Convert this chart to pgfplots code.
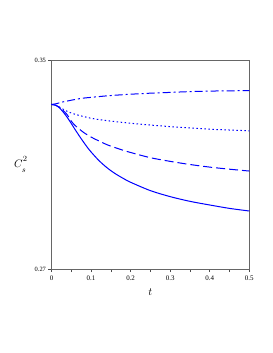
\documentclass[border=0pt]{standalone}
\usepackage{pgfplots}
\pgfplotsset{compat=1.18}
\usepackage{fontspec}
\setmainfont{Liberation Serif}
\begin{document}
\begin{tikzpicture}[x=1bp,y=1bp]
\path (0,0) rectangle (273,353);
\begin{axis}[
  at={(51.5bp,84bp)}, anchor=south west,
  width=197.8bp, height=209bp, scale only axis,
  xmin=0, xmax=0.5, ymin=0.27, ymax=0.35,
  axis line style={draw=black!60, line width=0.8bp},
  xtick={0,0.1,0.2,0.3,0.4,0.5},
  xticklabels={0,0.1,0.2,0.3,0.4,0.5},
  minor xtick={0.05,0.15,0.25,0.35,0.45},
  ytick={0.27,0.35},
  yticklabels={0.27,0.35},
  tick align=outside,
  xtick pos=bottom, ytick pos=left,
  major tick length=3bp, minor tick length=3bp,
  every tick/.style={black!70, line width=0.6bp},
  xticklabel style={font=\fontsize{7}{8}\selectfont},
  yticklabel style={font=\fontsize{6.5}{7}\selectfont, xshift=1bp},
  xlabel={$t$},
  xlabel style={font=\fontsize{11}{12}\selectfont, at={(axis description cs:0.5,0)}, anchor=north, yshift=-16bp},
  ylabel={$C^{\raisebox{2bp}{$\scriptstyle 2$}}_{\raisebox{-3bp}{$\scriptstyle s$}}$},
  ylabel style={rotate=-90, font=\fontsize{11}{12}\selectfont, at={(axis description cs:-0.155,0.5)}, anchor=center},
  clip=false,
]
\addplot[blue, line width=1bp, smooth] coordinates {
(0,0.333) (0.01,0.3327) (0.02,0.3317) (0.03,0.3300) (0.04,0.3280) (0.05,0.3257) (0.06,0.3233) (0.07,0.3210) (0.08,0.3188) (0.09,0.3167) (0.1,0.3148) (0.12,0.3115) (0.14,0.3088) (0.16,0.3066) (0.18,0.3048) (0.2,0.3032) (0.25,0.3000) (0.3,0.2977) (0.35,0.2959) (0.4,0.2945) (0.45,0.2932) (0.5,0.2922)};
\addplot[blue, line width=1bp, smooth, dash pattern=on 9bp off 4bp] coordinates {
(0,0.333) (0.01,0.3327) (0.02,0.3319) (0.03,0.3306) (0.04,0.3290) (0.05,0.3266) (0.06,0.3249) (0.08,0.3224) (0.1,0.3205) (0.12,0.3190) (0.14,0.3176) (0.16,0.3165) (0.18,0.3155) (0.2,0.3146) (0.25,0.3126) (0.3,0.3112) (0.35,0.3100) (0.4,0.3090) (0.45,0.3082) (0.5,0.3075)};
\addplot[blue, line width=1bp, smooth, dash pattern=on 1.5bp off 2.5bp] coordinates {
(0,0.333) (0.01,0.3327) (0.02,0.3320) (0.03,0.3311) (0.04,0.3303) (0.06,0.3292) (0.08,0.3284) (0.1,0.3277) (0.12,0.3272) (0.15,0.3266) (0.2,0.3258) (0.25,0.3251) (0.3,0.3245) (0.35,0.3240) (0.4,0.3235) (0.45,0.3232) (0.5,0.3229)};
\addplot[blue, line width=1bp, smooth, dash pattern=on 8bp off 3bp on 2bp off 3bp] coordinates {
(0,0.333) (0.01,0.3332) (0.02,0.3336) (0.03,0.3340) (0.04,0.3343) (0.06,0.3349) (0.08,0.3354) (0.1,0.3357) (0.12,0.3360) (0.15,0.3364) (0.2,0.3369) (0.25,0.3373) (0.3,0.3376) (0.35,0.3379) (0.4,0.3381) (0.45,0.3382) (0.5,0.3383)};
\end{axis}
\end{tikzpicture}
\end{document}
